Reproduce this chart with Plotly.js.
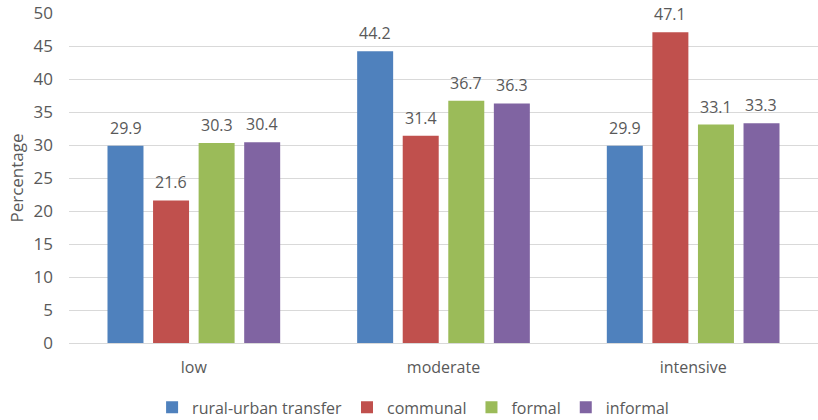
<!DOCTYPE html>
<html><head><meta charset="utf-8">
<script src="https://cdn.plot.ly/plotly-3.0.1.min.js"></script>
<style>body{margin:0;padding:0;background:#fff}#chart{width:818px;height:420px}</style>
</head><body><div id="chart"></div>
<script>
const categories = ["low", "moderate", "intensive"];
const seriesNames = ["rural-urban transfer", "communal", "formal", "informal"];
const ruralUrban = [29.9, 44.2, 29.9];
const communal = [21.6, 31.4, 47.1];
const formal = [30.3, 36.7, 33.1];
const informal = [30.4, 36.3, 33.3];
const colors = ["#4f81bd", "#c0504d", "#9bbb59", "#8064a2"];
const allValues = [ruralUrban, communal, formal, informal];

const font = "'Open Sans', sans-serif";
const traces = allValues.map((vals, i) => ({
  type: "bar", name: seriesNames[i], x: categories, y: vals,
  marker: {color: colors[i]}, hoverinfo: "none"
}));
const annotations = [];
allValues.forEach((vals, i) => {
  vals.forEach((v, j) => {
    annotations.push({x: categories[j], y: v, text: v.toFixed(1), showarrow: false,
      xref: "x", yref: "y", xshift: (i - 1.5) * 45.5, yanchor: "bottom", yshift: 5,
      font: {family: font, size: 16, color: "#595959"}});
  });
});
Plotly.newPlot("chart", traces, {
  width: 818, height: 420,
  margin: {l: 69, r: 0, t: 13, b: 77, autoexpand: false},
  barmode: "group", bargap: 0.27, bargroupgap: 0.21,
  paper_bgcolor: "#fff", plot_bgcolor: "#fff",
  font: {family: font, color: "#595959", size: 16},
  xaxis: {tickfont: {size: 16, color: "#595959"}, showgrid: false, showline: false, ticks: "", ticklabelstandoff: 13},
  yaxis: {range: [0, 50], dtick: 5, gridcolor: "#d9d9d9", gridwidth: 1,
    zeroline: true, zerolinecolor: "#d9d9d9", zerolinewidth: 1,
    tickfont: {size: 17, color: "#595959"}, ticks: "", ticklabelstandoff: 15,
    title: {text: "Percentage", font: {size: 17, color: "#595959"}, standoff: 5}},
  legend: {orientation: "h", xref: "container", x: 0.505, xanchor: "center", y: -0.195, yanchor: "middle",
    font: {size: 16, color: "#595959"}, itemwidth: 30, tracegroupgap: 0},
  showlegend: true,
  annotations: annotations
}, {staticPlot: true});
</script></body></html>
